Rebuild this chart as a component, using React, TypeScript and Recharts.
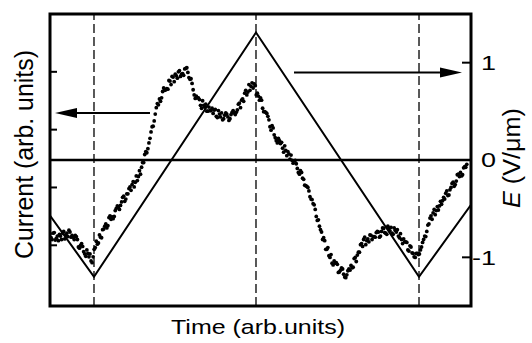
import {
  ComposedChart,
  Line,
  Scatter,
  XAxis,
  YAxis,
  ReferenceLine,
  ReferenceArea,
  Label,
} from "recharts";

const FONT = '"Liberation Sans", Arial, Helvetica, sans-serif';

// time between two current samples (arb. units, the frame spans 0..100)
const SAMPLE_STEP = 0.5;

// measured current (arb. units), readings at t = 0, 0.5, 1, ...
const currentSamples = [
  0.2, 0.1, 0.22, 0.12, 0.08, 0.16, 0.21, 0.11, 0.21, 0.26, 0.14, 0.14, 0.17,
  0.1, -0.05, 0.03, -0.11, -0.19, -0.14, -0.15, -0.3, -0.07, 0.07, 0.04, 0.14, 0.27,
  0.33, 0.3, 0.48, 0.45, 0.46, 0.6, 0.68, 0.62, 0.75, 0.85, 0.8, 0.89, 1.01,
  1.05, 1.01, 1.2, 1.19, 1.23, 1.43, 1.57, 1.6, 1.77, 1.96, 2.06, 2.27, 2.45,
  2.53, 2.55, 2.72, 2.69, 2.7, 2.84, 2.92, 2.83, 2.93, 3.0, 2.92, 2.97, 3.05,
  3.07, 2.9, 2.88, 2.69, 2.54, 2.55, 2.52, 2.37, 2.42, 2.44, 2.32, 2.33, 2.37,
  2.34, 2.23, 2.33, 2.22, 2.17, 2.25, 2.27, 2.16, 2.26, 2.33, 2.26, 2.34, 2.46,
  2.51, 2.49, 2.68, 2.65, 2.68, 2.81, 2.79, 2.6, 2.58, 2.55, 2.37, 2.31, 2.28,
  2.17, 1.99, 2.03, 1.86, 1.77, 1.81, 1.78, 1.61, 1.64, 1.62, 1.49, 1.47, 1.46,
  1.41, 1.26, 1.29, 1.16, 1.04, 1.02, 0.94, 0.8, 0.72, 0.62, 0.43, 0.33, 0.23,
  0.13, -0.07, -0.04, -0.21, -0.31, -0.27, -0.3, -0.47, -0.43, -0.41, -0.55, -0.51, -0.41,
  -0.35, -0.38, -0.21, -0.17, -0.12, 0.03, 0.1, 0.01, 0.11, 0.18, 0.1, 0.15, 0.22,
  0.23, 0.16, 0.3, 0.22, 0.19, 0.29, 0.31, 0.19, 0.26, 0.27, 0.13, 0.1, 0.11,
  0.06, -0.08, -0.01, -0.13, -0.2, -0.14, -0.16, -0.08, 0.05, 0.16, 0.24, 0.37, 0.51,
  0.56, 0.53, 0.67, 0.68, 0.71, 0.83, 0.9, 0.86, 0.96, 1.07, 1.02, 1.11, 1.23,
  1.26, 1.22, 1.36, 1.4,
];

// readings in between, at t = 0.25, 0.75, 1.25, ...
const currentSamplesMid = [
  0.13, 0.21, 0.09, 0.16, 0.19, 0.1, 0.24, 0.18, 0.15, 0.23, 0.17,
  0.1, 0.15, -0.03, 0.0, -0.02, -0.15, -0.08, -0.2, -0.27, -0.2, -0.04,
  0.02, 0.18, 0.13, 0.28, 0.37, 0.34, 0.51, 0.49, 0.5, 0.64, 0.66,
  0.69, 0.83, 0.76, 0.89, 0.98, 0.95, 1.1, 1.09, 1.12, 1.29, 1.35,
  1.43, 1.62, 1.67, 1.85, 2.05, 2.15, 2.38, 2.43, 2.49, 2.66, 2.68,
  2.71, 2.85, 2.78, 2.91, 2.96, 2.89, 3.02, 2.96, 2.94, 3.06, 2.99,
  2.87, 2.8, 2.6, 2.58, 2.55, 2.42, 2.5, 2.39, 2.32, 2.39, 2.33,
  2.28, 2.35, 2.21, 2.27, 2.29, 2.19, 2.29, 2.22, 2.19, 2.3, 2.29,
  2.3, 2.44, 2.38, 2.53, 2.63, 2.6, 2.78, 2.75, 2.72, 2.76, 2.63,
  2.51, 2.51, 2.31, 2.3, 2.23, 2.05, 2.07, 1.91, 1.81, 1.85, 1.76,
  1.68, 1.72, 1.55, 1.58, 1.56, 1.42, 1.47, 1.33, 1.23, 1.26, 1.14,
  1.03, 1.0, 0.84, 0.79, 0.7, 0.5, 0.44, 0.27, 0.1, 0.08, -0.07,
  -0.18, -0.16, -0.34, -0.31, -0.33, -0.46, -0.39, -0.5, -0.56, -0.44, -0.43,
  -0.39, -0.23, -0.28, -0.12, 0.01, -0.02, 0.14, 0.08, 0.06, 0.17, 0.15,
  0.14, 0.24, 0.14, 0.24, 0.29, 0.21, 0.33, 0.25, 0.21, 0.3, 0.23,
  0.16, 0.2, 0.03, 0.06, 0.05, -0.1, -0.03, -0.14, -0.21, -0.14, -0.15,
  -0.03, 0.1, 0.15, 0.35, 0.47, 0.45, 0.62, 0.6, 0.61, 0.76, 0.77,
  0.8, 0.94, 0.87, 1.0, 1.09, 1.05, 1.22, 1.19, 1.2, 1.34, 1.35,
];

// applied field E (V/µm): turning points of the triangle wave
const fieldTimes = [0, 10.45, 48.93, 87.65, 100];
const fieldValues = [-0.57, -1.2, 1.31, -1.2, -0.46];

// dashed markers at the field extrema
const turningTimes = [10.45, 48.93, 87.65];

const currentTicks = [0, 1, 2, 3];
const fieldTicks = [-1, 0, 1];

// arrows telling which axis belongs to which curve
const currentArrow = { from: 23.75, to: 1.19, level: 2.29 };
const fieldArrow = { from: 57.96, to: 97.86, level: 0.9 };

const currentData = [
  ...currentSamples.map((v, i) => ({ t: i * SAMPLE_STEP, current: v })),
  ...currentSamplesMid.map((v, i) => ({ t: (i + 0.5) * SAMPLE_STEP, current: v })),
];
const fieldData = fieldTimes.map((t, i) => ({ t, E: fieldValues[i] }));

function Arrow(props: any) {
  const { x1, y1, x2, y2 } = props;
  const dir = Math.sign(x2 - x1);
  const bx = x2 - dir * 22;
  return (
    <g>
      <line x1={x1} y1={y1} x2={bx} y2={y2} stroke="#000" strokeWidth={2} />
      <polygon points={`${x2},${y2} ${bx},${y2 - 5} ${bx},${y2 + 5}`} fill="#000" />
    </g>
  );
}

// right-hand tick labels sit right-aligned just past the frame
function FieldTick({ y, payload }: any) {
  return (
    <g transform={`translate(496,${y}) scale(1.35,1)`}>
      <text x={0} y={0} dy="0.36em" textAnchor="end" fontSize={20} fontFamily={FONT} fill="#000">
        {payload.value}
      </text>
    </g>
  );
}

const NoTick = () => <g />;

export default function App() {
  return (
    <div style={{ position: "absolute", left: 0, top: 0, background: "#fff" }}>
      <ComposedChart
        width={532}
        height={343}
        margin={{ top: 14, right: 60, bottom: 36, left: 49 }}
      >
        <XAxis
          dataKey="t"
          type="number"
          domain={[0, 100]}
          allowDataOverflow
          height={1}
          tick={false}
          tickLine={false}
          axisLine={false}
        >
          <Label
            content={() => (
              <text
                x={258}
                y={334}
                textAnchor="middle"
                fontSize={21}
                fontFamily={FONT}
                fill="#000"
                textLength={174}
                lengthAdjust="spacingAndGlyphs"
              >
                Time (arb.units)
              </text>
            )}
          />
        </XAxis>
        <YAxis
          yAxisId="I"
          orientation="left"
          type="number"
          domain={[-1.05, 4]}
          allowDataOverflow
          ticks={currentTicks}
          width={1}
          tickSize={-7}
          tick={NoTick}
          tickLine={{ stroke: "#000", strokeWidth: 2 }}
          axisLine={false}
        >
          <Label
            content={() => (
              <text
                transform="translate(33,154.5) rotate(-90)"
                textAnchor="middle"
                fontSize={25}
                fontFamily={FONT}
                fill="#000"
                textLength={209}
                lengthAdjust="spacingAndGlyphs"
              >
                Current (arb. units)
              </text>
            )}
          />
        </YAxis>
        <YAxis
          yAxisId="E"
          orientation="right"
          type="number"
          domain={[-1.5, 1.5]}
          allowDataOverflow
          ticks={fieldTicks}
          width={1}
          tickSize={-9}
          tick={FieldTick}
          tickLine={{ stroke: "#000", strokeWidth: 2 }}
          axisLine={false}
        >
          <Label
            content={() => (
              <text
                transform="translate(520,158) rotate(-90)"
                textAnchor="middle"
                fontSize={23}
                fontFamily={FONT}
                fill="#000"
                textLength={100}
                lengthAdjust="spacingAndGlyphs"
              >
                <tspan fontStyle="italic">E</tspan> (V/μm)
              </text>
            )}
          />
        </YAxis>

        {turningTimes.map((t) => (
          <ReferenceLine
            key={t}
            x={t}
            yAxisId="E"
            stroke="#000"
            strokeWidth={1.3}
            strokeDasharray="9 4"
          />
        ))}
        <ReferenceLine y={0} yAxisId="E" stroke="#000" strokeWidth={2.5} />
        <ReferenceLine
          yAxisId="I"
          segment={[
            { x: currentArrow.from, y: currentArrow.level },
            { x: currentArrow.to, y: currentArrow.level },
          ]}
          shape={Arrow}
        />
        <ReferenceLine
          yAxisId="E"
          segment={[
            { x: fieldArrow.from, y: fieldArrow.level },
            { x: fieldArrow.to, y: fieldArrow.level },
          ]}
          shape={Arrow}
        />

        <Line
          data={fieldData}
          yAxisId="E"
          dataKey="E"
          type="linear"
          stroke="#000"
          strokeWidth={2}
          dot={false}
          isAnimationActive={false}
        />
        <Scatter
          data={currentData}
          yAxisId="I"
          dataKey="current"
          shape={(p: any) => <circle cx={p.cx} cy={p.cy} r={1.9} fill="#000" />}
          isAnimationActive={false}
        />
        <ReferenceArea
          x1={0}
          x2={100}
          y1={-1.5}
          y2={1.5}
          yAxisId="E"
          fill="none"
          fillOpacity={0}
          stroke="#000"
          strokeWidth={3}
        />
      </ComposedChart>
    </div>
  );
}
